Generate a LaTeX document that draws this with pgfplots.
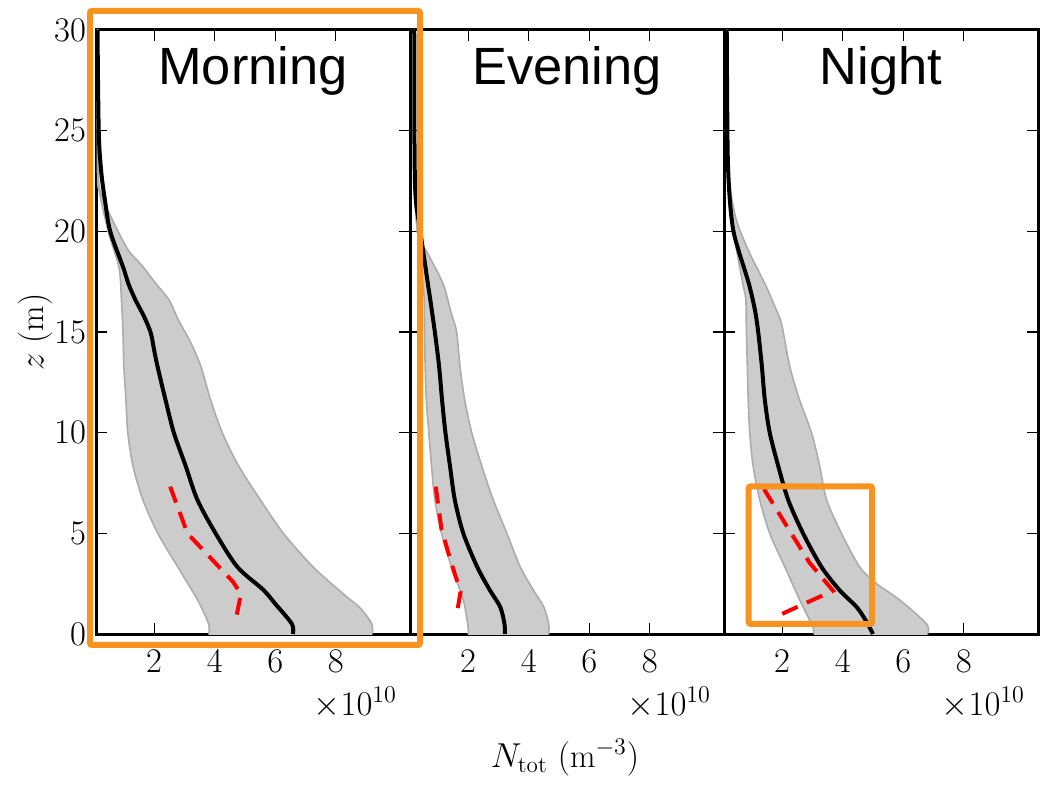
\documentclass[border=0pt]{standalone}
\usepackage{fontspec}
\newfontfamily\helv{Liberation Sans}
\usepackage{pgfplots}
\pgfplotsset{compat=1.18}
\definecolor{boxorange}{RGB}{247,147,30}
\definecolor{bandgray}{RGB}{204,204,204}
\definecolor{edgegray}{RGB}{172,172,172}
\pgfplotsset{
  panel/.style={
    scale only axis, width=157pt, height=302pt, anchor=south west,
    xmin=0.08, xmax=10.45, ymin=0, ymax=30,
    xtick={2,4,6,8}, ytick={0,5,10,15,20,25,30},
    tick align=inside, major tick length=5.5pt,
    tick style={line width=0.6pt, black},
    axis line style={line width=1.5pt},
    ticklabel style={font=\fontsize{16.5}{19}\selectfont},
    xticklabel style={yshift=-4.5pt},
    yticklabel style={xshift=-1.5pt},
    clip mode=individual,
  },
  bandfill/.style={fill=bandgray, draw=none, smooth, tension=0.5},
  band/.style={draw=edgegray, line width=0.8pt, smooth, tension=0.5},
  meanline/.style={black, line width=2pt, smooth, tension=0.5},
  obsline/.style={red, line width=2pt, dash pattern=on 8.5pt off 5pt},
}
\newcommand{\titlefont}{\helv\fontsize{26.2}{30}\selectfont}
\newcommand{\labfont}{\fontsize{16.5}{19}\selectfont}
\begin{document}
\begin{tikzpicture}
% ---------------- Morning ----------------
\begin{axis}[panel, at={(48pt,79pt)}]
\addplot[bandfill] coordinates {(3.8,-1) (3.8,0) (3.8,0.5) (3.43,1.7) (2.78,3.33) (2.12,5.0) (1.63,6.66) (1.3,8.35) (1.13,10) (1.07,11.6) (1.0,13.3) (0.97,15) (0.92,16.6) (0.84,18.2) (0.5,19.9) (0.2,21.9) (0.13,23) (0.12,30) (0.12,31)
 (0.14,31) (0.14,30) (0.16,23) (0.25,21.9) (0.58,20.7) (1.13,19.1) (1.6,18.3) (2.06,17.4) (2.49,16.6) (2.8,15.6) (3.2,14.5) (3.54,13.3) (3.87,11.6) (4.25,10) (4.79,8.35) (5.51,6.66) (6.27,5.0) (7.25,3.33) (8.24,2.0) (8.8,1.3) (9.19,0.5) (9.2,0) (9.2,-1)} -- cycle;
\addplot[band] coordinates {(3.8,0) (3.8,0.5) (3.43,1.7) (2.78,3.33) (2.12,5.0) (1.63,6.66) (1.3,8.35) (1.13,10) (1.07,11.6) (1.0,13.3) (0.97,15) (0.92,16.6) (0.84,18.2) (0.5,19.9) (0.2,21.9) (0.13,23) (0.12,30)};
\addplot[band] coordinates {(9.2,0) (9.19,0.5) (8.8,1.3) (8.24,2.0) (7.25,3.33) (6.27,5.0) (5.51,6.66) (4.79,8.35) (4.25,10) (3.87,11.6) (3.54,13.3) (3.2,14.5) (2.8,15.6) (2.49,16.6) (2.06,17.4) (1.6,18.3) (1.13,19.1) (0.58,20.7) (0.25,21.9) (0.16,23) (0.14,30)};
\addplot[meanline] coordinates {(6.58,0) (6.55,0.5) (6.0,1.5) (5.6,2.2) (4.75,3.33) (4.03,5.0) (3.43,6.66) (3.04,8.35) (2.65,10) (2.38,11.6) (2.11,13.3) (2.0,14.1) (1.89,14.95) (1.67,15.76) (1.38,16.6) (1.15,17.4) (0.98,18.2) (0.55,20.0) (0.38,21.5) (0.25,23) (0.17,25) (0.13,30)};
\addplot[obsline] coordinates {(2.53,7.32) (3.1,5.0) (4.6,2.6) (4.87,2.0) (4.72,0.9)};
\node[font=\titlefont, anchor=base] at (rel axis cs:0.5,1) [yshift=-27.5pt] {Morning};
\node[font=\labfont, anchor=base east] at (rel axis cs:1,0) [yshift=-40.5pt, xshift=-3pt] {$\times10^{10}$};
\end{axis}
% ---------------- Evening ----------------
\begin{axis}[panel, at={(205pt,79pt)}, yticklabels={}]
\addplot[bandfill] coordinates {(2.0,-1) (2.0,0) (2.0,0.3) (1.84,1.69) (1.45,3.33) (1.12,5.0) (0.9,6.66) (0.79,8.35) (0.7,10) (0.62,11.6) (0.58,13.3) (0.56,15) (0.55,16.6) (0.5,17.5) (0.35,19.6) (0.25,21.5) (0.22,24) (0.21,30) (0.21,31)
 (0.22,31) (0.22,30) (0.23,24) (0.26,21.5) (0.35,19.8) (0.7,18.8) (1.17,17.4) (1.45,15.9) (1.62,15) (1.73,13.3) (1.89,11.6) (2.12,10) (2.45,8.35) (2.83,6.66) (3.28,5.0) (3.72,3.33) (4.16,2.17) (4.5,1.34) (4.66,0.5) (4.66,0) (4.66,-1)} -- cycle;
\addplot[band] coordinates {(2.0,0) (2.0,0.3) (1.84,1.69) (1.45,3.33) (1.12,5.0) (0.9,6.66) (0.79,8.35) (0.7,10) (0.62,11.6) (0.58,13.3) (0.56,15) (0.55,16.6) (0.5,17.5) (0.35,19.6) (0.25,21.5) (0.22,24) (0.21,30)};
\addplot[band] coordinates {(4.66,0) (4.66,0.5) (4.5,1.34) (4.16,2.17) (3.72,3.33) (3.28,5.0) (2.83,6.66) (2.45,8.35) (2.12,10) (1.89,11.6) (1.73,13.3) (1.62,15) (1.45,15.9) (1.17,17.4) (0.7,18.8) (0.35,19.8) (0.26,21.5) (0.23,24) (0.22,30)};
\addplot[meanline] coordinates {(3.21,0) (3.2,0.5) (3.06,1.34) (2.72,2.17) (2.3,3.33) (1.84,5.0) (1.56,6.66) (1.4,8.35) (1.25,10) (1.14,11.6) (1.04,13.3) (0.9,15) (0.75,16.6) (0.67,17.4) (0.43,19.9) (0.27,21.6) (0.23,24) (0.22,30)};
\addplot[obsline] coordinates {(0.93,7.32) (1.12,5.2) (1.45,3.5) (1.75,2.1) (1.62,0.95)};
\node[font=\titlefont, anchor=base] at (rel axis cs:0.5,1) [yshift=-27.5pt] {Evening};
\node[font=\labfont, anchor=base east] at (rel axis cs:1,0) [yshift=-40.5pt, xshift=-3pt] {$\times10^{10}$};
\end{axis}
% ---------------- Night ----------------
\begin{axis}[panel, at={(362pt,79pt)}, yticklabels={}]
\addplot[bandfill] coordinates {(3.05,-1) (3.05,0) (3.0,0.4) (2.58,1.69) (2.09,3.33) (1.59,5.0) (1.26,6.66) (1.04,8.35) (0.93,10) (0.88,11.6) (0.85,13.3) (0.82,15) (0.8,16.6) (0.7,17.4) (0.45,19.5) (0.3,21.5) (0.2,24) (0.17,30) (0.17,31)
 (0.18,31) (0.18,30) (0.2,24) (0.3,22) (0.5,20.5) (0.9,19) (1.43,17.4) (1.75,16.3) (1.98,15.4) (2.25,13.3) (2.58,11.6) (2.97,10) (3.24,8.35) (3.47,6.66) (3.96,5.0) (4.56,3.33) (5.12,2.5) (5.88,1.69) (6.77,0.5) (6.8,0) (6.8,-1)} -- cycle;
\addplot[band] coordinates {(3.05,0) (3.0,0.4) (2.58,1.69) (2.09,3.33) (1.59,5.0) (1.26,6.66) (1.04,8.35) (0.93,10) (0.88,11.6) (0.85,13.3) (0.82,15) (0.8,16.6) (0.7,17.4) (0.45,19.5) (0.3,21.5) (0.2,24) (0.17,30)};
\addplot[band] coordinates {(6.8,0) (6.77,0.5) (5.88,1.69) (5.12,2.5) (4.56,3.33) (3.96,5.0) (3.47,6.66) (3.24,8.35) (2.97,10) (2.58,11.6) (2.25,13.3) (1.98,15.4) (1.75,16.3) (1.43,17.4) (0.9,19) (0.5,20.5) (0.3,22) (0.2,24) (0.18,30)};
\addplot[meanline] coordinates {(5.0,0) (4.79,0.6) (4.46,1.34) (3.9,2.17) (3.3,3.33) (2.69,5.0) (2.2,6.66) (1.87,8.35) (1.59,10) (1.43,11.6) (1.33,13.3) (1.21,15) (1.1,16.1) (0.9,17.4) (0.55,19.1) (0.38,20.1) (0.27,21.6) (0.2,24) (0.17,30)};
\addplot[obsline] coordinates {(1.40,7.2) (2.3,5.0) (2.9,3.55) (3.68,2.15) (2.0,1.0)};
\node[font=\titlefont, anchor=base] at (rel axis cs:0.5,1) [yshift=-27.5pt] {Night};
\node[font=\labfont, anchor=base east] at (rel axis cs:1,0) [yshift=-40.5pt, xshift=-3pt] {$\times10^{10}$};
\end{axis}
% axis labels
\node[font=\labfont, anchor=base] at (282.5pt,12.5pt) {$N_{\mathrm{tot}}$ $(\mathrm{m}^{-3})$};
\node[font=\labfont, rotate=90, anchor=center] at (17.5pt,230pt) {$z$ $(\mathrm{m})$};
% orange highlight boxes
\draw[boxorange, line width=3pt, rounded corners=1pt] (45pt,73.5pt) rectangle (210pt,390.5pt);
\draw[boxorange, line width=3pt, rounded corners=1pt] (374.35pt,84pt) rectangle (436pt,152.85pt);
\pgfresetboundingbox
\path[use as bounding box] (0,0) rectangle (521.5pt,396pt);
\end{tikzpicture}
\end{document}
